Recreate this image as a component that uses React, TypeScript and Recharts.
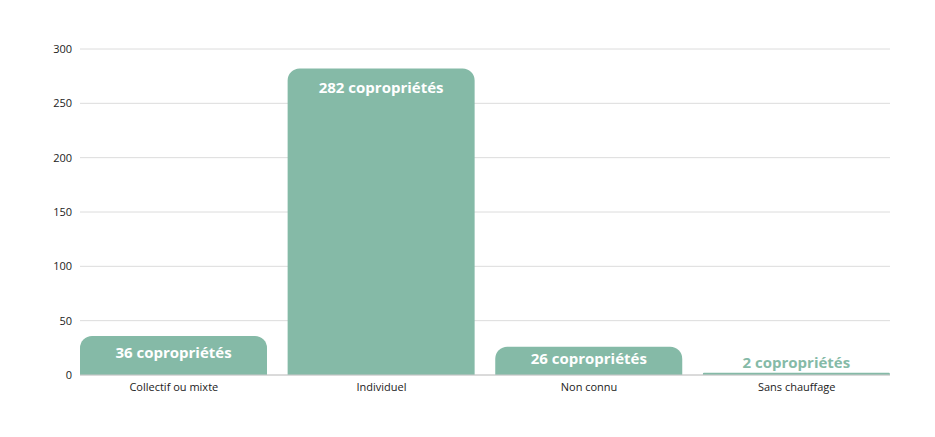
import React from "react";
import { BarChart, Bar, XAxis, YAxis, CartesianGrid, LabelList } from "recharts";

const categories = ["Collectif ou mixte", "Individuel", "Non connu", "Sans chauffage"];
const values = [36, 282, 26, 2];
const yTicks = [0, 50, 100, 150, 200, 250, 300];

const data = categories.map((name, i) => ({ name, value: values[i] }));

const BAR_COLOR = "#85BAA7";

const ValueLabel = (props: any) => {
  const { x, y, width, height, value } = props;
  const cx = x + width / 2;
  const inside = height > 15;
  const cy = inside ? y + Math.min(18, height * 0.41) : y - 11;
  return (
    <text
      x={cx}
      y={cy}
      textAnchor="middle"
      dominantBaseline="central"
      fill={inside ? "#ffffff" : BAR_COLOR}
      fontFamily="'Open Sans', sans-serif"
      fontWeight={700}
      fontSize={15}
    >
      {`${value} copropriétés`}
    </text>
  );
};

export default function App() {
  return (
    <div style={{ position: "absolute", left: 0, top: 0, width: 935, height: 437, background: "#fff" }}>
      <BarChart
        width={935}
        height={437}
        data={data}
        margin={{ top: 49, right: 45, bottom: 32, left: 0 }}
      >
        <CartesianGrid vertical={false} stroke="#dcdcdc" />
        <XAxis
          dataKey="name"
          padding={{ left: -10, right: -10.5 }}
          tickLine={false}
          axisLine={{ stroke: "#c8c8c8" }}
          tick={{ fill: "#222", fontSize: 11, fontFamily: "'Open Sans', sans-serif" }}
          interval={0}
        />
        <YAxis
          width={80}
          domain={[0, 300]}
          ticks={yTicks}
          axisLine={false}
          tickLine={false}
          tick={{ fill: "#222", fontSize: 11, fontFamily: "'Open Sans', sans-serif" }}
        />
        <Bar
          dataKey="value"
          fill={BAR_COLOR}
          barSize={187}
          radius={[12, 12, 0, 0]}
          isAnimationActive={false}
        >
          <LabelList dataKey="value" content={<ValueLabel />} />
        </Bar>
      </BarChart>
    </div>
  );
}
